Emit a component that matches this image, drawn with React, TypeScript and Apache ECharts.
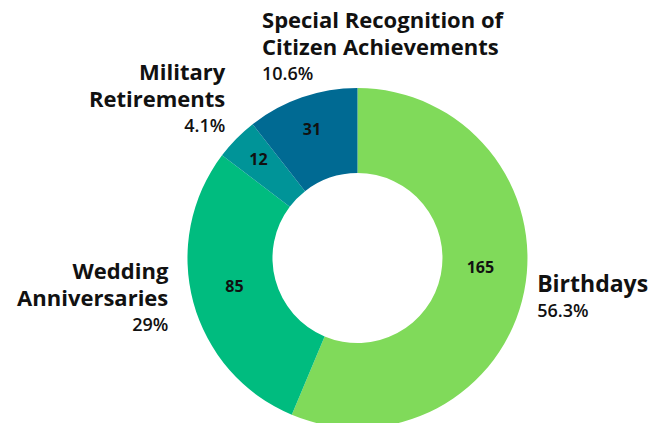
import React, { useEffect, useRef } from "react";
import * as echarts from "echarts";

const categories = [
  "Birthdays",
  "Wedding Anniversaries",
  "Military Retirements",
  "Special Recognition of Citizen Achievements",
];
const values = [165, 85, 12, 31];
const colors = ["#80da5a", "#00bc7f", "#009498", "#006a93"];
const labelLines: Record<string, string[]> = {
  "Birthdays": ["Birthdays"],
  "Wedding Anniversaries": ["Wedding", "Anniversaries"],
  "Military Retirements": ["Military", "Retirements"],
  "Special Recognition of Citizen Achievements": ["Special Recognition of", "Citizen Achievements"],
};
// label offsets from the slice's outer edge point (layout only)
const labelOffsets = [
  { dx: 13, dy: 5, align: "left", big: true },
  { dx: -25, dy: -5, align: "right", big: false },
  { dx: -11, dy: -41, align: "right", big: false },
  { dx: -40, dy: -51, align: "left", big: false },
];
// small nudges of the inner value labels (layout only)
const valueNudges = [
  { dx: -5, dy: -17 },
  { dx: 3, dy: -6 },
  { dx: -6, dy: -7 },
  { dx: -3, dy: -6 },
];

const FONT = "'Open Sans', 'Noto Sans', sans-serif";

export default function App() {
  const ref = useRef<HTMLDivElement>(null);
  useEffect(() => {
    document.body.style.margin = "0";
    if (!ref.current) return;
    const chart = echarts.init(ref.current, null, { renderer: "svg" });
    const total = values.reduce((a, b) => a + b, 0);
    const data = categories.map((name, i) => ({
      name,
      value: values[i],
      itemStyle: { color: colors[i] },
    }));
    const center = ["54%", "61%"];
    const radius = [85, 170];
    chart.setOption({
      animation: false,
      textStyle: { fontFamily: FONT },
      series: [
        {
          type: "pie",
          center,
          radius,
          startAngle: 90,
          clockwise: true,
          data,
          label: {
            show: true,
            position: "inside",
            formatter: "{c}",
            color: "#111",
            fontFamily: FONT,
            fontWeight: "bold",
            fontSize: 16,
          },
          labelLine: { show: false },
          labelLayout: (p: any) => {
            const n = valueNudges[p.dataIndex];
            return n ? { dx: n.dx, dy: n.dy } : {};
          },
          emphasis: { disabled: true },
        },
        {
          type: "pie",
          center,
          radius,
          startAngle: 90,
          clockwise: true,
          silent: true,
          data: data.map((d) => ({ ...d, itemStyle: { color: "rgba(0,0,0,0)" } })),
          label: {
            show: true,
            position: "outside",
            formatter: (p: any) => {
              const pct = Number(((p.value / total) * 100).toFixed(1));
              const key = labelOffsets[p.dataIndex]?.big ? "nb" : "n";
              const lines = (labelLines[p.name] || [p.name]).map((l) => `{${key}|${l}}`);
              return lines.join("\n") + `\n{p|${pct}%}`;
            },
            color: "#111",
            rich: {
              n: { fontFamily: FONT, fontWeight: "bold", fontSize: 22, lineHeight: 27, color: "#111" },
              nb: { fontFamily: FONT, fontWeight: "bold", fontSize: 23, lineHeight: 27, color: "#111" },
              p: { fontFamily: FONT, fontWeight: 600, fontSize: 18, lineHeight: 27, color: "#111" },
            },
          },
          labelLine: { show: true, length: 0, length2: 0, lineStyle: { opacity: 0 } },
          labelLayout: (p: any) => {
            const o = labelOffsets[p.dataIndex];
            const pts = p.labelLinePoints;
            if (!pts || !o) return {};
            return {
              x: pts[0][0] + o.dx,
              y: pts[0][1] + o.dy,
              align: o.align,
              verticalAlign: "middle",
            };
          },
          emphasis: { disabled: true },
        },
      ],
    });
    return () => chart.dispose();
  }, []);
  return <div ref={ref} style={{ width: 662, height: 423 }} />;
}
